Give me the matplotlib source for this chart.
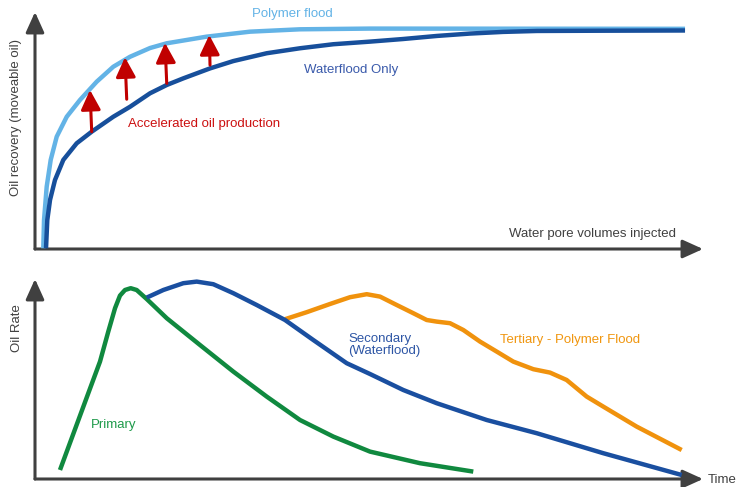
import matplotlib
matplotlib.use("Agg")
import matplotlib.pyplot as plt

plt.rcParams['font.family'] = ['Liberation Sans', 'DejaVu Sans']

# top panel: recovery vs water pore volumes injected (axis units 0..10, 0..1)
polymer_x = [0.124, 0.135, 0.175, 0.235, 0.325, 0.475, 0.674, 0.924, 1.172, 1.422,
             1.722, 1.972, 2.570, 3.219, 3.967, 5.015, 9.731]
polymer_y = [0.003, 0.122, 0.263, 0.376, 0.474, 0.558, 0.629, 0.706, 0.769, 0.811,
             0.848, 0.868, 0.896, 0.917, 0.927, 0.930, 0.929]

water_x = [0.165, 0.184, 0.225, 0.299, 0.424, 0.624, 0.849, 1.172, 1.422, 1.722,
           1.972, 2.220, 2.620, 2.969, 3.469, 3.967, 4.466, 5.015, 5.509, 6.018,
           6.512, 7.006, 7.515, 8.458, 9.731]
water_y = [0.003, 0.122, 0.207, 0.291, 0.376, 0.446, 0.495, 0.558, 0.600, 0.657,
           0.692, 0.720, 0.762, 0.793, 0.826, 0.847, 0.864, 0.875, 0.886, 0.899,
           0.909, 0.916, 0.920, 0.921, 0.922]

# red "accelerated" arrows: base on waterflood, tip on polymer curve
arrow_x0 = [0.849, 1.373, 1.972, 2.620]
arrow_y0 = [0.495, 0.632, 0.699, 0.776]
arrow_x1 = [0.823, 1.347, 1.946, 2.609]
arrow_y1 = [0.671, 0.809, 0.870, 0.903]

# bottom panel: oil rate vs time
primary_x = [0.374, 0.798, 0.973, 1.097, 1.198, 1.272, 1.347, 1.433, 1.522, 1.672,
             1.972, 2.470, 2.969, 3.469, 3.967, 4.466, 5.015, 5.763, 6.561]
primary_y = [0.045, 0.429, 0.587, 0.737, 0.854, 0.917, 0.945, 0.954, 0.945, 0.900,
             0.804, 0.670, 0.537, 0.412, 0.295, 0.212, 0.137, 0.079, 0.037]

secondary_x = [1.672, 1.921, 2.220, 2.421, 2.669, 2.969, 3.319, 3.743, 4.166, 4.666,
               5.015, 5.513, 6.013, 6.762, 7.510, 8.507, 9.681]
secondary_y = [0.907, 0.945, 0.979, 0.987, 0.974, 0.929, 0.870, 0.795, 0.695, 0.579,
               0.525, 0.445, 0.379, 0.295, 0.229, 0.129, 0.020]

tertiary_x = [3.743, 4.067, 4.416, 4.716, 4.966, 5.165, 5.415, 5.663, 5.864, 6.013,
              6.213, 6.412, 6.662, 6.912, 7.160, 7.460, 7.710, 7.959, 8.259, 8.507,
              9.007, 9.681]
tertiary_y = [0.799, 0.834, 0.875, 0.909, 0.924, 0.912, 0.870, 0.829, 0.795, 0.787,
              0.779, 0.745, 0.687, 0.637, 0.587, 0.549, 0.532, 0.495, 0.412, 0.362,
              0.262, 0.145]

W, H = 738, 487
GRAY = '#404040'
LIGHT = '#63b3e6'
DARK = '#174f9b'
RED = '#c00000'
GREEN = '#10893f'
BLUE2 = '#1a4fa0'
ORANGE = '#f0920d'
FS = 9.5
LW = 3.2

fig = plt.figure(figsize=(W / 100, H / 100), dpi=100)


def frac(px, py):
    return px / W, 1 - py / H


def make_axes(x0, y0, x1, y1):
    # x0,y0 = origin pixel, x1,y1 = arrow tips pixel
    ax = fig.add_axes([x0 / W, 1 - y0 / H, (x1 - x0) / W, (y0 - y1) / H])
    ax.set_xlim(0, 10)
    ax.set_ylim(0, 1)
    ax.axis('off')
    for tip in [(10, 0), (0, 1)]:
        ax.annotate('', xy=tip, xytext=(0, 0), annotation_clip=False,
                    arrowprops=dict(arrowstyle='-|>,head_length=0.62,head_width=0.28',
                                    mutation_scale=20, lw=2.2, color=GRAY,
                                    shrinkA=0, shrinkB=0))
    return ax


line_kw = dict(lw=LW, solid_capstyle='butt', solid_joinstyle='round', zorder=3)

ax1 = make_axes(35, 249, 703, 12)
ax1.plot(polymer_x, polymer_y, color=LIGHT, **line_kw)
ax1.plot(water_x, water_y, color=DARK, **line_kw)
for xa, ya, xb, yb in zip(arrow_x0, arrow_y0, arrow_x1, arrow_y1):
    ax1.annotate('', xy=(xb, yb), xytext=(xa, ya),
                 arrowprops=dict(arrowstyle='-|>,head_length=0.6,head_width=0.3',
                                 mutation_scale=20, lw=2.2, color=RED,
                                 shrinkA=0, shrinkB=0), zorder=4)

ax2 = make_axes(35, 479, 703, 279)
ax2.plot(primary_x, primary_y, color=GREEN, **line_kw)
ax2.plot(tertiary_x, tertiary_y, color=ORANGE, **line_kw)
ax2.plot(secondary_x, secondary_y, color=BLUE2, **line_kw)

# labels
fig.text(*frac(252, 14.5), 'Polymer flood', color=LIGHT, fontsize=FS, ha='left', va='center')
fig.text(*frac(304, 69.5), 'Waterflood Only', color='#3a5aab', fontsize=FS, ha='left', va='center')
fig.text(*frac(127.5, 123.5), 'Accelerated oil production', color='#cc1010', fontsize=FS,
         ha='left', va='center')
fig.text(*frac(676, 234.5), 'Water pore volumes injected', color=GRAY, fontsize=FS,
         ha='right', va='center')
fig.text(*frac(16.5, 117), 'Oil recovery (moveable oil)', color=GRAY, fontsize=FS,
         ha='center', va='center', rotation=90)
fig.text(*frac(16.5, 328.5), 'Oil Rate', color=GRAY, fontsize=FS,
         ha='center', va='center', rotation=90)
fig.text(*frac(91, 425), 'Primary', color='#1e9a4a', fontsize=FS, ha='left', va='center')
fig.text(*frac(348, 345), 'Secondary\n(Waterflood)', color='#2e56a5', fontsize=FS,
         ha='left', va='center', linespacing=1.1)
fig.text(*frac(499.5, 340), 'Tertiary - Polymer Flood', color='#f0960f', fontsize=FS,
         ha='left', va='center')
fig.text(*frac(708, 480), 'Time', color=GRAY, fontsize=FS, ha='left', va='center')

fig.savefig('out.png', dpi=100)
